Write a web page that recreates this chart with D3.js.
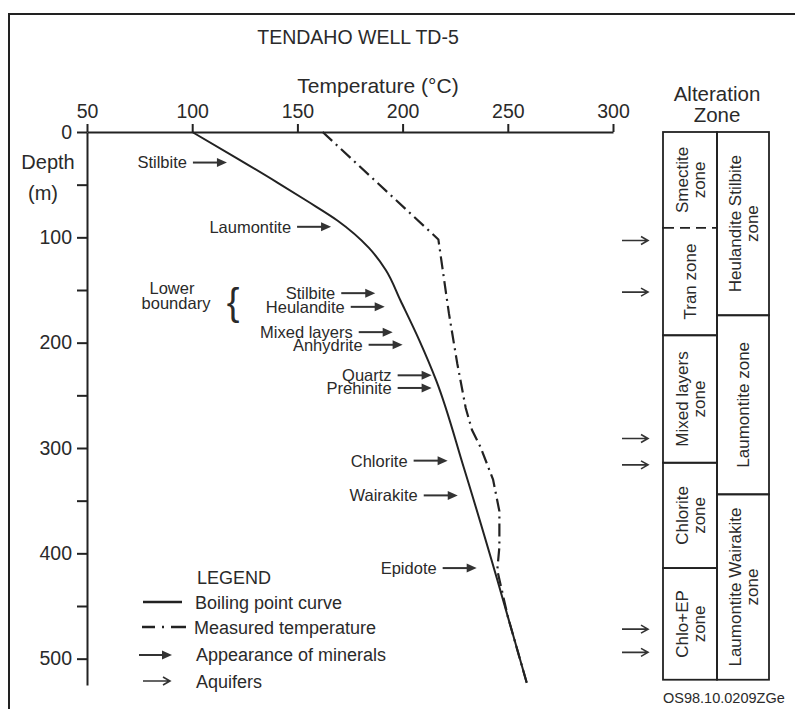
<!DOCTYPE html>
<html>
<head>
<meta charset="utf-8">
<script src="https://cdn.jsdelivr.net/npm/d3@7"></script>
<style>
  body { margin: 0; background: #fff; }
  text { font-family: "Liberation Sans", Arial, sans-serif; fill: #2a2a2a; }
</style>
</head>
<body>
<div id="chart"></div>
<script>
// Tendaho well TD-5: temperature vs depth with alteration zones

// boiling point curve: [temperature degC, depth m]
var boilingCurve = [[100, 0], [120.5, 24], [140.5, 48], [155, 66], [169, 84], [184, 110],
  [192, 131], [199, 160], [208, 198], [216, 236], [229, 318], [245, 425], [259, 523]];

// measured temperature: [temperature degC, depth m]
var measuredTemp = [[162, 0], [217, 102], [219, 130], [222, 172], [226, 220],
  [230, 262], [233, 283], [237, 299], [243, 330], [246, 360], [246, 394],
  [245, 416], [250, 460], [255, 495], [259, 523]];

// first appearance of minerals (arrow tip): [temperature, depth]
var minerals = ["Stilbite", "Laumontite", "Stilbite", "Heulandite", "Mixed layers",
  "Anhydrite", "Quartz", "Prehinite", "Chlorite", "Wairakite", "Epidote"];
var mineralTemp = [116.5, 166, 187, 191.5, 195.3, 200, 213.8, 213.8, 221.4, 226.2, 235.2];
var mineralDepth = [29, 90, 153, 166, 190, 202, 231, 243, 312, 345, 414];

// aquifers, depth in m
var aquiferDepth = [103, 152, 291, 316, 472, 494];

// alteration zones (depth boundaries in m)
var zonesLeft = [["Smectite", "zone"], ["Tran zone"], ["Mixed layers", "zone"], ["Chlorite", "zone"], ["Chlo+EP", "zone"]];
var zonesLeftDepth = [0, 91, 193, 314, 414, 520];
var zonesRight = [["Heulandite Stilbite", "zone"], ["Laumontite zone"], ["Laumontite Wairakite", "zone"]];
var zonesRightDepth = [0, 174, 344, 520];

var tempTicks = [50, 100, 150, 200, 250, 300];
var depthTicks = [0, 50, 100, 150, 200, 250, 300, 350, 400, 450, 500];

var W = 795, H = 709;
var ink = "#222";

var svg = d3.select("#chart").append("svg")
  .attr("width", W)
  .attr("height", H);

var x = d3.scaleLinear().domain([50, 300]).range([87, 613]);
var y = d3.scaleLinear().domain([0, 525]).range([132, 685]);

// frame
svg.append("path")
  .attr("d", "M9,709 L9,14 L795,14")
  .attr("fill", "none")
  .attr("stroke", ink)
  .attr("stroke-width", 2);

svg.append("text")
  .attr("x", 358).attr("y", 44)
  .attr("text-anchor", "middle")
  .style("font-size", "19.5px")
  .text("TENDAHO WELL TD-5");

svg.append("text")
  .attr("x", 378).attr("y", 93)
  .attr("text-anchor", "middle")
  .style("font-size", "21px")
  .text("Temperature (°C)");

// axes
var xAxis = svg.append("g")
  .attr("transform", "translate(0," + y(0) + ")")
  .call(d3.axisTop(x).tickValues(tempTicks).tickSize(8).tickSizeOuter(0).tickPadding(6));

var yAxis = svg.append("g")
  .attr("transform", "translate(" + x(50) + ",0)")
  .call(d3.axisLeft(y).tickValues(depthTicks).tickSize(10).tickSizeOuter(0).tickPadding(5)
    .tickFormat(d => d % 100 === 0 ? d : ""));

[xAxis, yAxis].forEach(function(g) {
  g.select(".domain").attr("stroke", ink).attr("stroke-width", 2);
  g.selectAll(".tick line").attr("stroke", ink).attr("stroke-width", 2);
  g.selectAll(".tick text")
    .style("font-family", "'Liberation Sans', Arial, sans-serif")
    .style("font-size", "19.5px")
    .attr("fill", "#2a2a2a");
});

svg.append("text").attr("x", 48).attr("y", 169)
  .attr("text-anchor", "middle").style("font-size", "20px").text("Depth");
svg.append("text").attr("x", 43).attr("y", 200)
  .attr("text-anchor", "middle").style("font-size", "20px").text("(m)");

// curves
var line = d3.line()
  .x(d => x(d[0]))
  .y(d => y(d[1]));

svg.append("path")
  .datum(boilingCurve)
  .attr("d", line.curve(d3.curveMonotoneY))
  .attr("fill", "none")
  .attr("stroke", ink)
  .attr("stroke-width", 2);

svg.append("path")
  .datum(measuredTemp)
  .attr("d", line.curve(d3.curveLinear))
  .attr("fill", "none")
  .attr("stroke", ink)
  .attr("stroke-width", 2.2)
  .attr("stroke-dasharray", "13,5,2,5");

// arrows
function boldArrow(x1, x2, yy) {
  svg.append("line")
    .attr("x1", x1).attr("x2", x2 - 7)
    .attr("y1", yy).attr("y2", yy)
    .attr("stroke", "#333").attr("stroke-width", 2);
  svg.append("path")
    .attr("d", "M" + x2 + "," + yy + " L" + (x2 - 10) + "," + (yy - 4.5) + " L" + (x2 - 10) + "," + (yy + 4.5) + "Z")
    .attr("fill", "#333");
}
function thinArrow(x1, x2, yy) {
  svg.append("path")
    .attr("d", "M" + x1 + "," + yy + " L" + x2 + "," + yy +
      " M" + (x2 - 7) + "," + (yy - 4) + " L" + x2 + "," + yy + " L" + (x2 - 7) + "," + (yy + 4))
    .attr("fill", "none")
    .attr("stroke", "#333").attr("stroke-width", 1.6);
}

var arrowLen = 34;
minerals.forEach(function(m, i) {
  var tx = x(mineralTemp[i]), ty = y(mineralDepth[i]);
  boldArrow(tx - arrowLen, tx, ty);
  svg.append("text")
    .attr("x", tx - arrowLen - 6)
    .attr("y", ty)
    .attr("dy", "0.36em")
    .attr("text-anchor", "end")
    .style("font-size", "16.5px")
    .text(m);
});

// lower boundary brace
svg.append("text").attr("x", 172).attr("y", 294)
  .attr("text-anchor", "middle").style("font-size", "16.5px").text("Lower");
svg.append("text").attr("x", 176).attr("y", 309)
  .attr("text-anchor", "middle").style("font-size", "16.5px").text("boundary");
svg.append("text").attr("x", 233).attr("y", 315)
  .attr("text-anchor", "middle").style("font-size", "38px")
  .style("font-weight", "300").text("{");

aquiferDepth.forEach(function(d) {
  thinArrow(622, 648, y(d));
});

// alteration zone table
svg.append("text").attr("x", 717).attr("y", 101)
  .attr("text-anchor", "middle").style("font-size", "20.5px").text("Alteration");
svg.append("text").attr("x", 717).attr("y", 122)
  .attr("text-anchor", "middle").style("font-size", "20.5px").text("Zone");

function zoneColumn(x0, x1, names, bounds) {
  names.forEach(function(lines, i) {
    var y0 = y(bounds[i]), y1 = y(bounds[i + 1]);
    svg.append("rect")
      .attr("x", x0).attr("y", y0)
      .attr("width", x1 - x0).attr("height", y1 - y0)
      .attr("fill", "none")
      .attr("stroke", ink).attr("stroke-width", 1.8);
    var cx = (x0 + x1) / 2, cy = (y0 + y1) / 2;
    var t = svg.append("text")
      .attr("transform", "translate(" + cx + "," + cy + ") rotate(-90)")
      .attr("text-anchor", "middle")
      .style("font-size", "17px");
    lines.forEach(function(s, k) {
      t.append("tspan")
        .attr("x", 0)
        .attr("y", (k - (lines.length - 1) / 2) * 17)
        .attr("dy", "0.36em")
        .text(s);
    });
  });
}
zoneColumn(663, 717, zonesLeft, zonesLeftDepth);
zoneColumn(717, 769, zonesRight, zonesRightDepth);

// smectite / tran boundary is dashed
svg.append("line")
  .attr("x1", 664).attr("x2", 716)
  .attr("y1", y(zonesLeftDepth[1])).attr("y2", y(zonesLeftDepth[1]))
  .attr("stroke", "#fff").attr("stroke-width", 3);
svg.append("line")
  .attr("x1", 664).attr("x2", 716)
  .attr("y1", y(zonesLeftDepth[1])).attr("y2", y(zonesLeftDepth[1]))
  .attr("stroke", ink).attr("stroke-width", 1.8)
  .attr("stroke-dasharray", "10,6");

// legend
var lg = svg.append("g");
lg.append("text").attr("x", 197).attr("y", 584).style("font-size", "18px").text("LEGEND");
lg.append("line").attr("x1", 143).attr("x2", 182).attr("y1", 602).attr("y2", 602)
  .attr("stroke", ink).attr("stroke-width", 2.4);
lg.append("text").attr("x", 195).attr("y", 609).style("font-size", "18px").text("Boiling point curve");
lg.append("line").attr("x1", 142).attr("x2", 186).attr("y1", 627).attr("y2", 627)
  .attr("stroke", ink).attr("stroke-width", 2.4).attr("stroke-dasharray", "13,7,2,7,15");
lg.append("text").attr("x", 194).attr("y", 634).style("font-size", "18px").text("Measured  temperature");
boldArrow(139, 172, 655);
lg.append("text").attr("x", 196).attr("y", 661).style("font-size", "18px").text("Appearance of minerals");
thinArrow(143, 170, 681);
lg.append("text").attr("x", 196).attr("y", 688).style("font-size", "18px").text("Aquifers");

svg.append("text").attr("x", 663).attr("y", 703)
  .style("font-size", "14.5px").text("OS98.10.0209ZGe");
</script>
</body>
</html>
